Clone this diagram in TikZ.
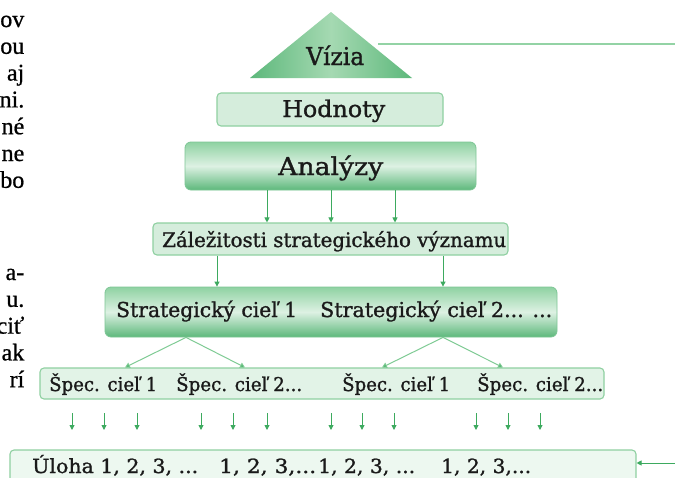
\documentclass[tikz,border=0pt]{standalone}
\usepackage{fontspec}
\setmainfont[FakeBold=1.2]{DejaVu Serif}
\newfontfamily\bodyf[FakeBold=0.8]{Liberation Serif}
\usetikzlibrary{arrows.meta}
\definecolor{bordG}{HTML}{8FD0A1}
\definecolor{lineG}{HTML}{93D3A5}
\definecolor{arrG}{HTML}{3DAA5F}
\definecolor{slnG}{HTML}{7FCB94}
\definecolor{fillA}{HTML}{D5EDDC}
\definecolor{fillS}{HTML}{E2F3E7}
\definecolor{fillU}{HTML}{EDF8F0}
\definecolor{shTop}{HTML}{8FD2A2}
\definecolor{shMid}{HTML}{DDF1E3}
\definecolor{shBot}{HTML}{5DB87B}
\definecolor{vizE}{HTML}{5DB87B}
\definecolor{vizM}{HTML}{A5D9B2}
\definecolor{txtC}{HTML}{1A1A1A}
\newsavebox\fitbox
\newcommand\fitw[2]{\sbox\fitbox{#2}\pgfmathsetmacro\fitr{#1/\the\wd\fitbox}\scalebox{\fitr}[1]{\usebox\fitbox}}
\tikzset{
  box/.style={draw=bordG, line width=1.1pt, rounded corners=4pt, inner sep=0pt},
  shbox/.style={draw=shBot!80!white, line width=0.8pt, rounded corners=6pt, inner sep=0pt,
    top color=shTop, bottom color=shBot, middle color=shMid},
  txt/.style={inner sep=0pt, anchor=base west, text=txtC},
  lefttxt/.style={inner sep=0pt, anchor=base east, text=black},
  arr/.style={draw=arrG, line width=0.9pt, -{Triangle[length=5pt,width=5pt]}},
  arrs/.style={draw=slnG, line width=1pt, -{Triangle[length=5pt,width=5.5pt,fill=arrG]}},
}
\begin{document}
\begin{tikzpicture}[x=1pt,y=-1pt]
\useasboundingbox (0,0) rectangle (675,477);
\clip (0,0) rectangle (675,477);
\fill[white] (0,0) rectangle (675,477);

% cut-off text of the page on the left
\foreach \t/\yy [count=\i] in {ov/27,ou/53.8,aj/80.6,ni./107.4,né/134.2,ne/161,bo/187.8,a-/280,u./306.8,ciť/333.6,ak/360.4,rí/387.2}
  {\node[lefttxt] (L\i) at (24.5,\yy) {\bodyf\fontsize{24}{28}\selectfont \t};}

% Vizia
\path[left color=vizE, right color=vizE, middle color=vizM] (331,12) -- (412,78) -- (250,78) -- cycle;
\node[txt] (viz) at (306,65) {\fontsize{24.5}{28}\selectfont\fitw{58}{Vízia}};
\coordinate (vizR) at (378,44);
\coordinate (edgeR) at (675,44);
\draw[lineG, line width=1.8pt] (vizR) -- (edgeR);

% Hodnoty
\node[box, fill=fillA, minimum width=226pt, minimum height=33pt] (hod) at (330,109.5) {};
\node[txt] (hodT) at (282,117) {\fontsize{23}{27}\selectfont\fitw{103}{Hodnoty}};

% Analyzy
\node[shbox, minimum width=291pt, minimum height=48pt] (ana) at (330.5,166) {};
\node[txt] (anaT) at (278,175) {\fontsize{24.5}{28}\selectfont\fitw{105}{Analýzy}};

% Zalezitosti
\node[box, fill=fillA, minimum width=355pt, minimum height=32pt] (zal) at (330.5,239) {};
\node[txt] (zalT) at (162,247) {\fontsize{20}{24}\selectfont\fitw{344}{Záležitosti strategického významu}};

% Strategicke ciele
\node[shbox, minimum width=452pt, minimum height=50pt] (str) at (331,312) {};
\node[txt] (strT1) at (116,317) {\fontsize{20.5}{24}\selectfont\fitw{181}{Strategický cieľ 1}};
\node[txt] (strT2) at (320,317) {\fontsize{20.5}{24}\selectfont\fitw{232}{Strategický cieľ 2... ...}};

% Specificke ciele
\node[box, fill=fillS, minimum width=564pt, minimum height=31pt] (spec) at (322,383.5) {};
\node[txt] (spT1) at (49,391) {\fontsize{19}{22}\selectfont\fitw{108}{Špec. cieľ 1}};
\node[txt] (spT2) at (176,391) {\fontsize{19}{22}\selectfont\fitw{126}{Špec. cieľ 2...}};
\node[txt] (spT3) at (342,391) {\fontsize{19}{22}\selectfont\fitw{108}{Špec. cieľ 1}};
\node[txt] (spT4) at (477,391) {\fontsize{19}{22}\selectfont\fitw{126}{Špec. cieľ 2...}};

% Ulohy
\node[box, fill=fillU, minimum width=626pt, minimum height=44pt] (ulo) at (323,472) {};
\node[txt] (uT1) at (32,473) {\fontsize{19.5}{22}\selectfont\fitw{166}{Úloha 1, 2, 3, ...}};
\node[txt] (uT2) at (219,473) {\fontsize{19.5}{22}\selectfont\fitw{97}{1, 2, 3,...}};
\node[txt] (uT3) at (318,473) {\fontsize{19.5}{22}\selectfont\fitw{97}{1, 2, 3, ...}};
\node[txt] (uT4) at (441,473) {\fontsize{19.5}{22}\selectfont\fitw{90}{1, 2, 3,...}};

% arrows Analyzy -> Zalezitosti
\foreach \x [count=\i] in {267,331,395} {
  \coordinate (a\i) at (\x,0);
  \draw[arr] (ana.south -| a\i) -- (zal.north -| a\i);
}
% arrows Zalezitosti -> Strategicke ciele
\foreach \x [count=\i] in {217,443} {
  \coordinate (z\i) at (\x,0);
  \draw[arr] (zal.south -| z\i) -- (str.north -| z\i);
}
% Strategicke -> Specificke
\coordinate (s1) at (186,0); \coordinate (s2) at (443,0);
\coordinate (t1) at (125,0); \coordinate (t2) at (245,0);
\coordinate (t3) at (382,0); \coordinate (t4) at (503,0);
\draw[arrs] (str.south -| s1) -- (spec.north -| t1);
\draw[arrs] (str.south -| s1) -- (spec.north -| t2);
\draw[arrs] (str.south -| s2) -- (spec.north -| t3);
\draw[arrs] (str.south -| s2) -- (spec.north -| t4);

% small arrows Specificke -> Ulohy
\foreach \x [count=\i] in {72,104,137,201,233,267,331,362,394,476,508,540} {
  \coordinate (sa\i) at (\x,413);
  \coordinate (sb\i) at (\x,430);
  \draw[arr] (sa\i) -- (sb\i);
}

% arrow from the right into Ulohy
\coordinate (uR) at (675,463);
\draw[arr] (uR) -- (ulo.east |- uR);
\end{tikzpicture}
\end{document}
